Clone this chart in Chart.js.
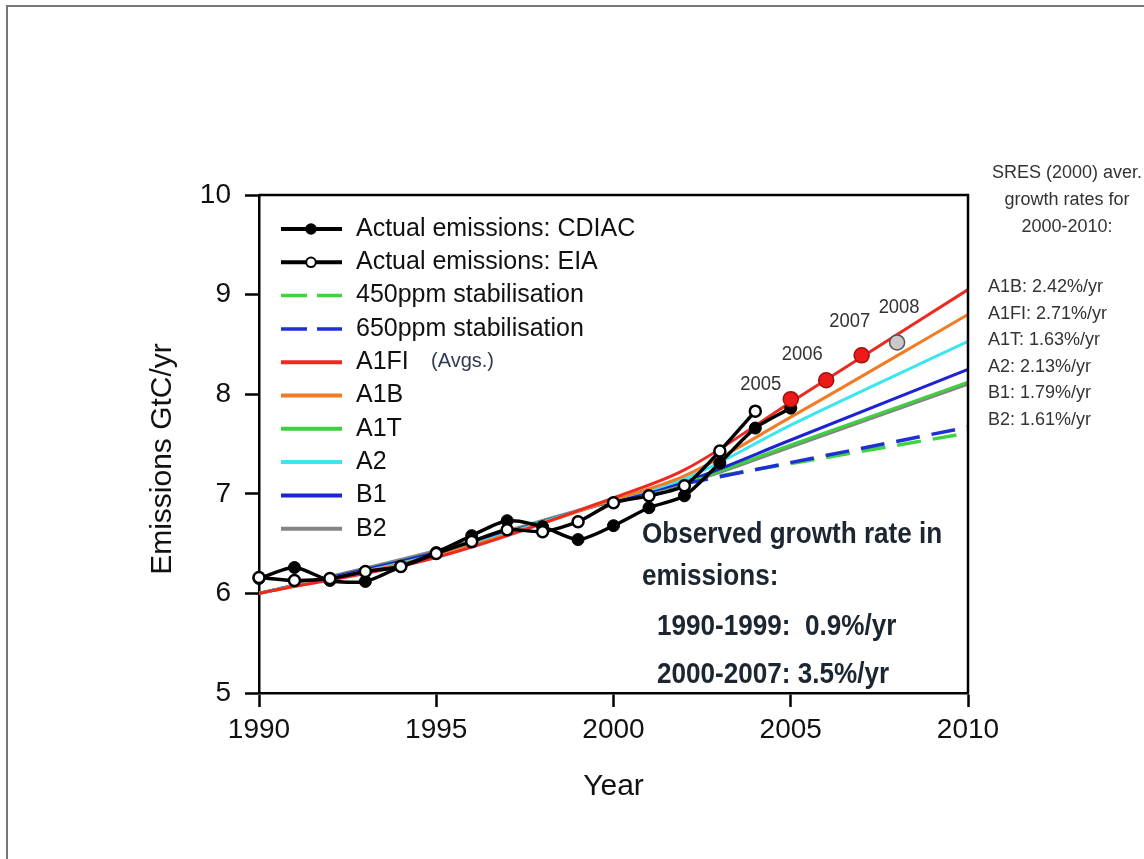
<!DOCTYPE html>
<html lang="en">
<head>
  <meta charset="UTF-8">
  <title>Emissions vs SRES scenarios</title>
  <script src="https://cdn.jsdelivr.net/npm/chart.js"></script>
  <style>
    html, body { margin: 0; padding: 0; background: #fff; overflow: hidden; }
    #wrap { position: relative; width: 1144px; height: 859px; }
    #frame { position: absolute; left: 6px; top: 5px; width: 1200px; height: 900px; border-left: 2px solid #777; border-top: 2px solid #777; }
    canvas { position: absolute; left: 0; top: 0; }
  </style>
</head>
<body>
  <div id="wrap">
    <div id="frame"></div>
    <canvas id="chart" width="1144" height="859"></canvas>
  </div>

  <script>
    // observed emissions (GtC/yr)
    const cdiacYears = [1990, 1991, 1992, 1993, 1994, 1995, 1996, 1997, 1998, 1999, 2000, 2001, 2002, 2003, 2004, 2005];
    const cdiac = [6.15, 6.26, 6.13, 6.12, 6.27, 6.41, 6.58, 6.73, 6.67, 6.54, 6.68, 6.86, 6.98, 7.31, 7.66, 7.86];
    const eiaYears = [1990, 1991, 1992, 1993, 1994, 1995, 1996, 1997, 1998, 1999, 2000, 2001, 2002, 2003, 2004];
    const eia = [6.16, 6.13, 6.15, 6.22, 6.27, 6.40, 6.52, 6.64, 6.62, 6.72, 6.91, 6.98, 7.08, 7.43, 7.83];
    const recentYears = [2005, 2006, 2007, 2008];
    const recent = [7.95, 8.14, 8.39, 8.52];

    // SRES scenario averages
    const scenYears = [1990, 1995, 2000, 2002, 2005, 2010];
    const a1fi = [6.00, 6.36, 6.96, 7.24, 7.92, 9.05];
    const a1b = [6.00, 6.38, 6.94, 7.18, 7.77, 8.80];
    const a1t = [6.00, 6.41, 6.93, 7.11, 7.49, 8.12];
    const a2 = [6.00, 6.39, 6.94, 7.15, 7.69, 8.53];
    const b1 = [6.00, 6.41, 6.93, 7.12, 7.54, 8.25];
    const b2 = [6.00, 6.43, 6.93, 7.10, 7.47, 8.10];

    // stabilisation pathways
    const stabYears = [2002, 2010];
    const ppm450 = [7.12, 7.61];
    const ppm650 = [7.10, 7.67];

    const xTicks = [1990, 1995, 2000, 2005, 2010];
    const yTicks = [5, 6, 7, 8, 9, 10];

    const sresRates = ['A1B: 2.42%/yr', 'A1FI: 2.71%/yr', 'A1T: 1.63%/yr', 'A2: 2.13%/yr', 'B1: 1.79%/yr', 'B2: 1.61%/yr'];
    const observedText = ['Observed growth rate in', 'emissions:', '1990-1999:  0.9%/yr', '2000-2007: 3.5%/yr'];

    const FONT = '"Liberation Sans", Arial, sans-serif';
    Chart.defaults.font.family = FONT;
    Chart.defaults.color = '#111';

    const pts = (xs, ys) => xs.map((x, i) => ({ x: x, y: ys[i] }));

    const scen = (label, xs, ys, color, order) => ({
      label: label, data: pts(xs, ys), borderColor: color, backgroundColor: color,
      borderWidth: 3, pointRadius: 0, cubicInterpolationMode: 'monotone', order: order
    });
    const stab = (label, ys, color, order) => ({
      label: label, data: pts(stabYears, ys), borderColor: color, backgroundColor: color,
      borderWidth: 3.5, borderDash: [24, 12], pointRadius: 0, order: order
    });

    const datasets = [
      { label: 'Actual emissions: CDIAC', data: pts(cdiacYears, cdiac), borderColor: '#000', borderWidth: 3.5,
        pointRadius: 6, pointBackgroundColor: '#000', pointBorderColor: '#000', pointBorderWidth: 1,
        tension: 0.25, clip: false, order: 2 },
      { label: 'Actual emissions: EIA', data: pts(eiaYears, eia), borderColor: '#000', borderWidth: 3.5,
        pointRadius: 5.5, pointBackgroundColor: '#fff', pointBorderColor: '#000', pointBorderWidth: 2.5,
        tension: 0.25, clip: false, order: 1 },
      stab('450ppm stabilisation', ppm450, '#3ed43e', 4),
      stab('650ppm stabilisation', ppm650, '#1f2fd6', 3),
      scen('A1FI', scenYears, a1fi, '#ec2a22', 5),
      scen('A1B', scenYears, a1b, '#f27b25', 6),
      scen('A1T', scenYears, a1t, '#3fcf3f', 9),
      scen('A2', scenYears, a2, '#3ae6ef', 7),
      scen('B1', scenYears, b1, '#1d22d4', 8),
      scen('B2', scenYears, b2, '#858585', 10),
      { label: '', hideLegend: true, data: pts(recentYears, recent), showLine: false, pointRadius: 7.5,
        pointBackgroundColor: ['#ee1a1a', '#ee1a1a', '#ee1a1a', '#c9c9c9'],
        pointBorderColor: ['#a01010', '#a01010', '#a01010', '#555'], pointBorderWidth: 1.5, clip: false, order: 0 }
    ];

    const recentIndex = datasets.length - 1;
    const recentLabelOffsets = [[-30, -15], [-24, -26], [-12, -34], [2, -35]];

    // condensed text, like the narrow face in the original figure
    function narrowText(ctx, text, x, y, sx) {
      ctx.save();
      ctx.translate(x, y);
      ctx.scale(sx, 1);
      ctx.fillText(text, 0, 0);
      ctx.restore();
    }

    const decor = {
      id: 'decor',
      afterDraw(chart) {
        const { ctx, chartArea: a } = chart;
        ctx.save();

        // close the box
        ctx.strokeStyle = '#000';
        ctx.lineWidth = 2.5;
        ctx.beginPath();
        ctx.moveTo(a.left, a.top);
        ctx.lineTo(a.right, a.top);
        ctx.lineTo(a.right, a.bottom);
        ctx.stroke();

        // axis titles
        ctx.fillStyle = '#111';
        ctx.font = '30px ' + FONT;
        ctx.textAlign = 'center';
        ctx.textBaseline = 'middle';
        ctx.fillText('Year', (a.left + a.right) / 2, 787);
        ctx.save();
        ctx.translate(163, 459);
        ctx.rotate(-Math.PI / 2);
        ctx.fillText('Emissions GtC/yr', 0, 0);
        ctx.restore();

        // legend
        const items = chart.data.datasets.filter(d => !d.hideLegend);
        const lx = a.left + 22, ly = a.top + 34, step = 33.3;
        items.forEach((d, i) => {
          const yy = ly + i * step;
          ctx.strokeStyle = d.borderColor;
          ctx.lineWidth = d.borderDash ? 3.5 : 4;
          ctx.setLineDash(d.borderDash ? [26, 10] : []);
          ctx.beginPath();
          ctx.moveTo(lx, yy);
          ctx.lineTo(lx + 61, yy);
          ctx.stroke();
          ctx.setLineDash([]);
          if (d.pointRadius) {
            ctx.beginPath();
            ctx.arc(lx + 30, yy, 4.8, 0, Math.PI * 2);
            ctx.fillStyle = d.pointBackgroundColor;
            ctx.fill();
            ctx.lineWidth = 2;
            ctx.strokeStyle = d.pointBorderColor;
            ctx.stroke();
          }
          ctx.fillStyle = '#111';
          ctx.font = '25px ' + FONT;
          ctx.textAlign = 'left';
          ctx.fillText(d.label, lx + 75, yy);
          if (d.label === 'A1FI') {
            ctx.fillStyle = '#2e3a50';
            ctx.font = '20px ' + FONT;
            ctx.fillText('(Avgs.)', lx + 150, yy - 1);
          }
        });

        // year labels on recent estimates
        const meta = chart.getDatasetMeta(recentIndex);
        ctx.fillStyle = '#333';
        ctx.font = '20px ' + FONT;
        ctx.textAlign = 'center';
        meta.data.forEach((p, i) => {
          const o = recentLabelOffsets[i];
          narrowText(ctx, String(recentYears[i]), p.x + o[0], p.y + o[1], 0.92);
        });

        // observed growth text
        ctx.fillStyle = '#1b2631';
        ctx.font = 'bold 29px ' + FONT;
        ctx.textAlign = 'left';
        narrowText(ctx, observedText[0], 642, 535, 0.9);
        narrowText(ctx, observedText[1], 642, 577, 0.9);
        narrowText(ctx, observedText[2], 657, 627, 0.9);
        narrowText(ctx, observedText[3], 657, 675, 0.9);

        // SRES rates
        ctx.fillStyle = '#333';
        ctx.font = '18px ' + FONT;
        ctx.textAlign = 'center';
        ctx.fillText('SRES (2000) aver.', 1067, 173);
        ctx.fillText('growth rates for', 1067, 200);
        ctx.fillText('2000-2010:', 1067, 227);
        ctx.textAlign = 'left';
        sresRates.forEach((t, i) => ctx.fillText(t, 988, 287 + i * 26.6));

        ctx.restore();
      }
    };

    new Chart(document.getElementById('chart'), {
      type: 'line',
      data: { datasets: datasets },
      options: {
        responsive: false,
        animation: false,
        events: [],
        layout: { padding: { left: 0, top: 195, right: 176, bottom: 0 } },
        plugins: { legend: { display: false }, tooltip: { enabled: false } },
        scales: {
          x: {
            type: 'linear', min: 1990, max: 2010,
            afterFit: s => { s.height = 166; },
            afterBuildTicks: s => { s.ticks = xTicks.map(v => ({ value: v })); },
            ticks: { font: { size: 28 }, color: '#111', padding: 6, callback: v => String(v), maxRotation: 0 },
            grid: { drawOnChartArea: false, tickLength: 14, tickWidth: 2.5, tickColor: '#000' },
            border: { color: '#000', width: 2.5 }
          },
          y: {
            min: 5, max: 10,
            afterFit: s => { s.width = 259; },
            afterBuildTicks: s => { s.ticks = yTicks.map(v => ({ value: v })); },
            ticks: { font: { size: 28 }, color: '#111', padding: 14 },
            grid: { drawOnChartArea: false, tickLength: 14, tickWidth: 2.5, tickColor: '#000' },
            border: { color: '#000', width: 2.5 }
          }
        }
      },
      plugins: [decor]
    });
  </script>
</body>
</html>
